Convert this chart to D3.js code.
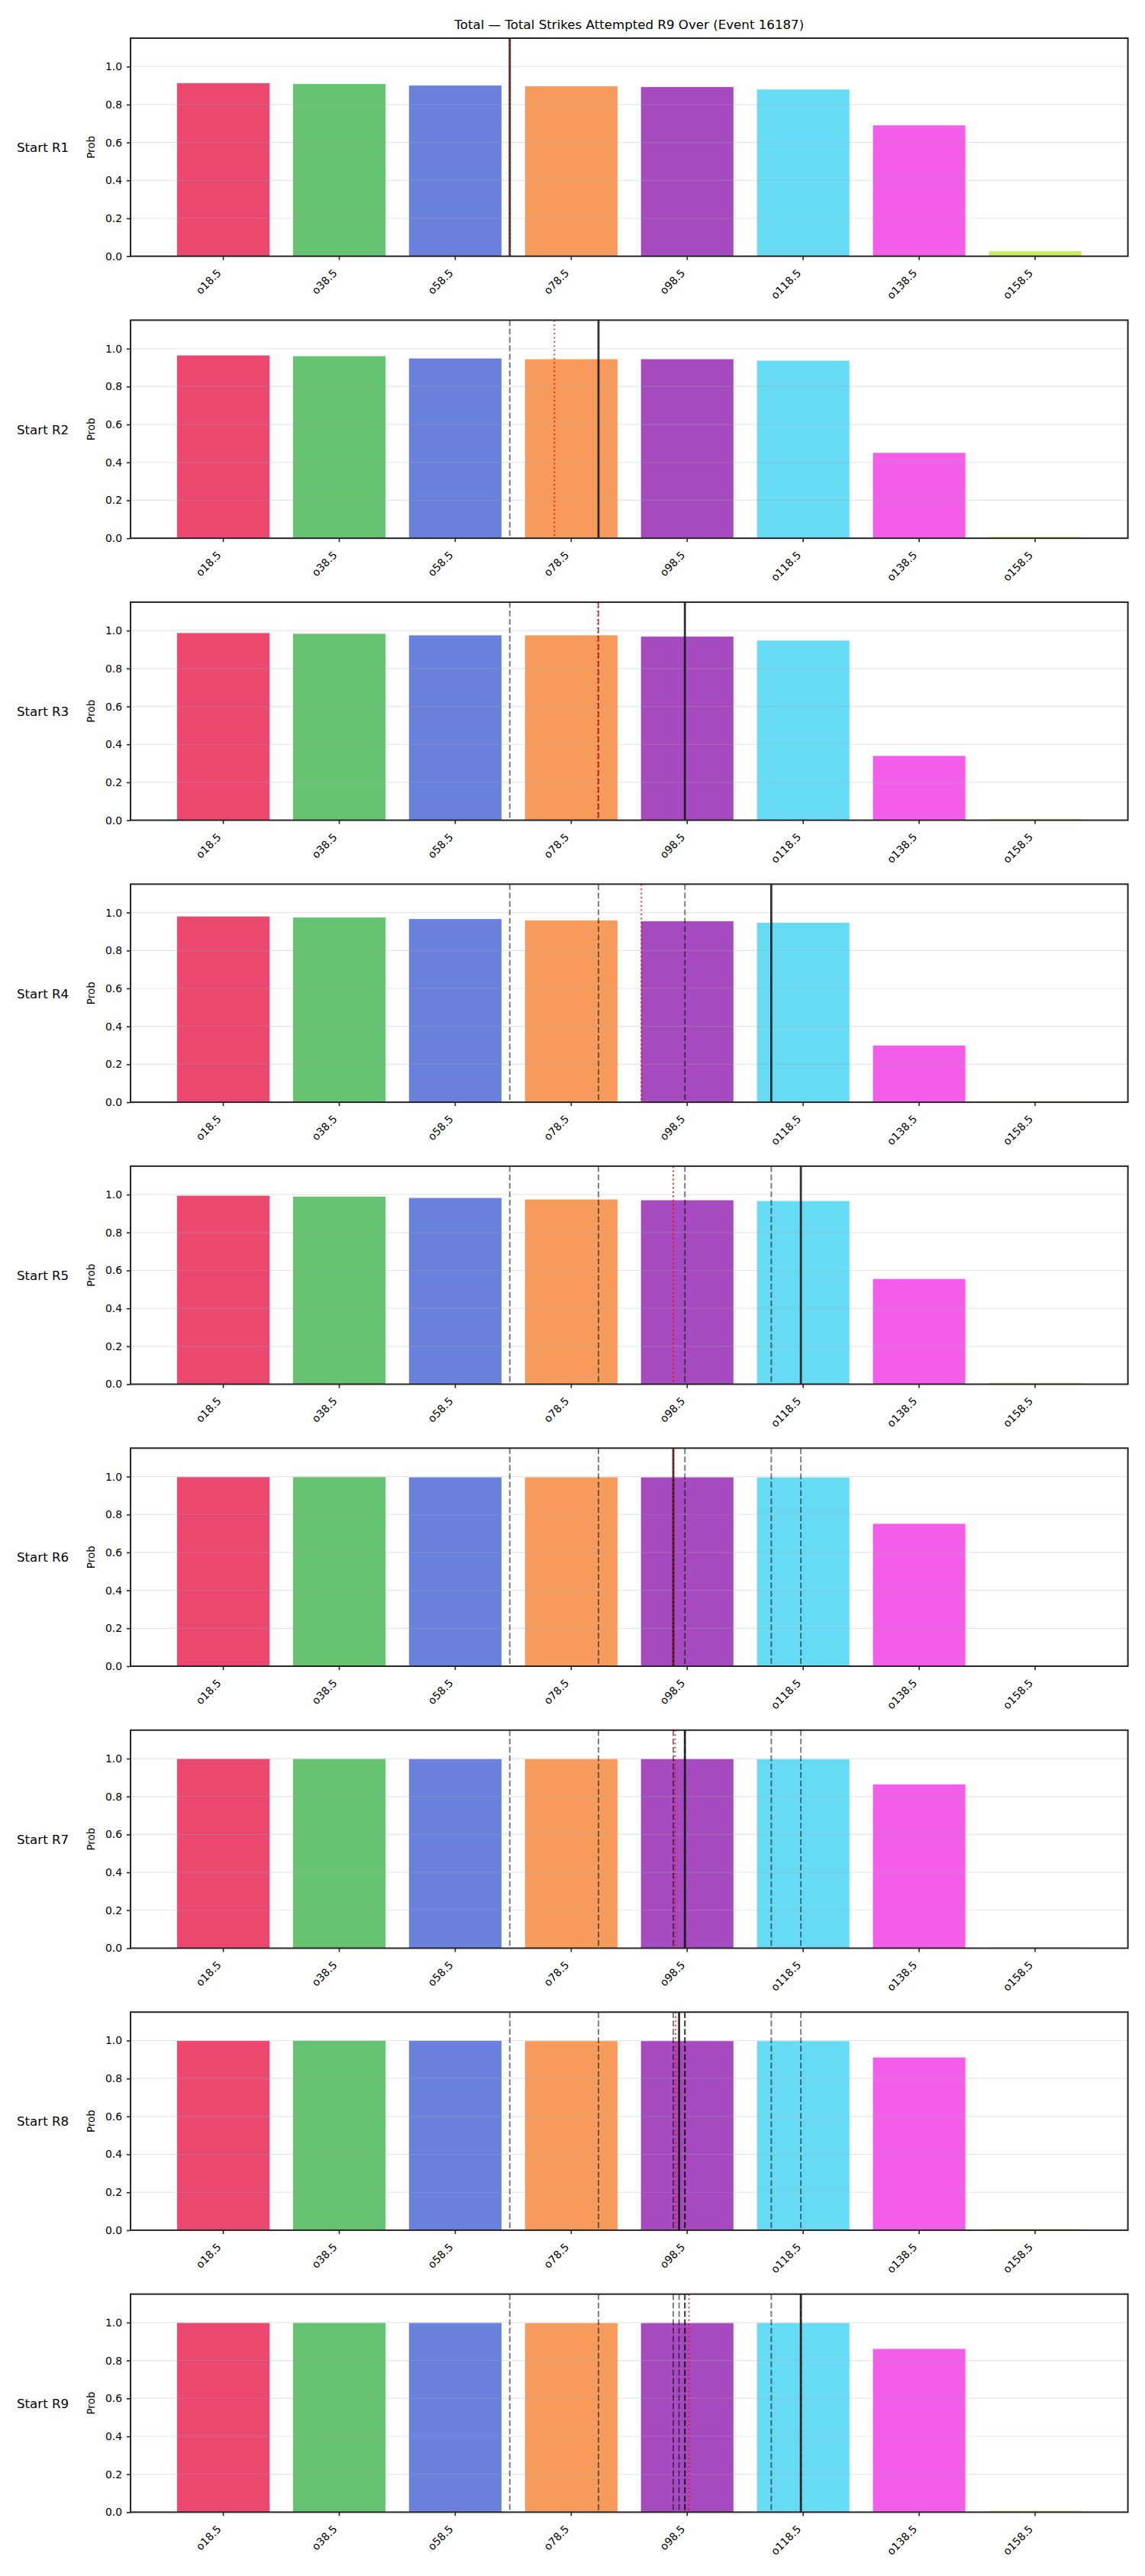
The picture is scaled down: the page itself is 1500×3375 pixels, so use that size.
<!DOCTYPE html>
<html>
<head>
<meta charset="utf-8">
<script src="https://cdn.jsdelivr.net/npm/d3@7"></script>
<style>
  body { margin: 0; background: #fff; }
  svg { display: block; font-family: "DejaVu Sans", sans-serif; }
</style>
</head>
<body>
<div id="chart"></div>
<script>
// Over probabilities per strike line, one panel per starting round

const chartTitle = 'Total \u2014 Total Strikes Attempted R9 Over (Event 16187)';
const strikes = ['o18.5', 'o38.5', 'o58.5', 'o78.5', 'o98.5', 'o118.5', 'o138.5', 'o158.5'];
const rounds = ['R1', 'R2', 'R3', 'R4', 'R5', 'R6', 'R7', 'R8', 'R9'];

const probR1 = [0.913, 0.909, 0.901, 0.897, 0.893, 0.880, 0.691, 0.027];
const probR2 = [0.965, 0.961, 0.949, 0.945, 0.945, 0.937, 0.451, 0.008];
const probR3 = [0.988, 0.984, 0.976, 0.976, 0.969, 0.948, 0.340, 0.007];
const probR4 = [0.980, 0.975, 0.967, 0.959, 0.955, 0.947, 0.300, 0.005];
const probR5 = [0.995, 0.990, 0.983, 0.975, 0.971, 0.967, 0.556, 0.007];
const probR6 = [0.998, 0.998, 0.997, 0.997, 0.997, 0.996, 0.752, 0.001];
const probR7 = [0.999, 0.999, 0.998, 0.998, 0.998, 0.997, 0.864, 0.005];
const probR8 = [0.999, 0.999, 0.999, 0.998, 0.998, 0.998, 0.912, 0.007];
const probR9 = [0.999, 0.999, 0.999, 0.998, 0.998, 0.998, 0.862, 0.008];

// projected pace after each round (solid line), and running average (red dotted)
const pace = [67.9, 83.2, 98.1, 113.0, 118.1, 96.1, 98.1, 97.1, 118.1];
const paceAvg = [67.9, 75.6, 83.1, 90.6, 96.1, 96.1, 96.4, 96.5, 98.8];

const barColors = ['#eb4870', '#66c371', '#6a82dd', '#f69b5b', '#a64bbf', '#68dbf4', '#f35de9', '#c8eb60'];

const probs = [probR1, probR2, probR3, probR4, probR5, probR6, probR7, probR8, probR9];

const width = 1500;
const height = 3375;
const margin = { left: 171, right: 1477.6 };
const firstTop = 50;
const panelStep = 369.46;
const panelH = 285.7;

const svg = d3.select('#chart')
  .append('svg')
  .attr('width', width)
  .attr('height', height);

svg.append('rect')
  .attr('width', width)
  .attr('height', height)
  .attr('fill', '#fff');

const x = d3.scaleBand()
  .domain(strikes)
  .range([margin.left, margin.right])
  .paddingInner(0.2)
  .paddingOuter(0.4);

// vertical markers live on the strike number axis
const strikeNum = strikes.map(s => +s.slice(1));
const xLine = d3.scaleLinear()
  .domain([strikeNum[0], strikeNum[strikeNum.length - 1]])
  .range([x(strikes[0]) + x.bandwidth() / 2, x(strikes[strikes.length - 1]) + x.bandwidth() / 2]);

svg.append('text')
  .attr('x', (margin.left + margin.right) / 2)
  .attr('y', 37.5)
  .attr('text-anchor', 'middle')
  .attr('font-size', '16.67px')
  .attr('fill', '#000')
  .text(chartTitle);

rounds.forEach((round, i) => {
  const top = firstTop + i * panelStep;
  const bottom = top + panelH;
  const y = d3.scaleLinear().domain([0, 1.15]).range([bottom, top]);
  const g = svg.append('g');

  // bars
  g.selectAll('.bar')
    .data(probs[i])
    .join('rect')
    .attr('class', 'bar')
    .attr('x', (d, j) => x(strikes[j]))
    .attr('width', x.bandwidth())
    .attr('y', d => y(d))
    .attr('height', d => y(0) - y(d))
    .attr('fill', (d, j) => barColors[j])
    .attr('stroke', '#fff')
    .attr('stroke-opacity', 0.6)
    .attr('stroke-width', 0.6);

  // grid on top, semi transparent
  g.selectAll('.grid')
    .data([0.2, 0.4, 0.6, 0.8, 1.0])
    .join('line')
    .attr('class', 'grid')
    .attr('x1', margin.left)
    .attr('x2', margin.right)
    .attr('y1', d => y(d))
    .attr('y2', d => y(d))
    .attr('stroke', '#a8a8a8')
    .attr('stroke-opacity', 0.3)
    .attr('stroke-width', 1.2);

  // earlier rounds, dashed
  g.selectAll('.prev')
    .data(pace.slice(0, i))
    .join('line')
    .attr('class', 'prev')
    .attr('x1', d => xLine(d))
    .attr('x2', d => xLine(d))
    .attr('y1', top)
    .attr('y2', bottom)
    .attr('stroke', '#000')
    .attr('stroke-opacity', 0.5)
    .attr('stroke-width', 2)
    .attr('stroke-dasharray', '7.7 3.3');

  g.append('line')
    .attr('x1', xLine(pace[i]))
    .attr('x2', xLine(pace[i]))
    .attr('y1', top)
    .attr('y2', bottom)
    .attr('stroke', '#111')
    .attr('stroke-opacity', 0.85)
    .attr('stroke-width', 2.8);

  g.append('line')
    .attr('x1', xLine(paceAvg[i]))
    .attr('x2', xLine(paceAvg[i]))
    .attr('y1', top)
    .attr('y2', bottom)
    .attr('stroke', '#ff0000')
    .attr('stroke-opacity', 0.75)
    .attr('stroke-width', 2.1)
    .attr('stroke-dasharray', '2.1 3.4');

  // axes
  const yAxis = g.append('g')
    .attr('transform', `translate(${margin.left},0)`)
    .call(d3.axisLeft(y).tickValues([0, 0.2, 0.4, 0.6, 0.8, 1.0]).tickFormat(d3.format('.1f')).tickSize(5).tickPadding(6));
  yAxis.select('.domain').remove();
  yAxis.selectAll('.tick line').attr('stroke', '#262626').attr('stroke-width', 1.6);
  yAxis.selectAll('.tick text')
    .attr('font-size', '13.9px')
    .attr('fill', '#000')
    .attr('font-family', '"DejaVu Sans", sans-serif');

  const xAxis = g.append('g')
    .attr('transform', `translate(0,${bottom})`)
    .call(d3.axisBottom(x).tickSize(5).tickSizeOuter(0));
  xAxis.select('.domain').remove();
  xAxis.selectAll('.tick line').attr('stroke', '#262626').attr('stroke-width', 1.6);
  xAxis.selectAll('.tick text')
    .attr('font-size', '13.9px')
    .attr('fill', '#000')
    .attr('font-family', '"DejaVu Sans", sans-serif')
    .attr('text-anchor', 'end')
    .attr('dy', null)
    .attr('y', 0)
    .attr('transform', 'translate(-2,23) rotate(-45)');

  g.append('rect')
    .attr('x', margin.left)
    .attr('y', top)
    .attr('width', margin.right - margin.left)
    .attr('height', panelH)
    .attr('fill', 'none')
    .attr('stroke', '#262626')
    .attr('stroke-width', 2);

  g.append('text')
    .attr('transform', `translate(123.5,${(top + bottom) / 2}) rotate(-90)`)
    .attr('text-anchor', 'middle')
    .attr('font-size', '13.5px')
    .attr('fill', '#000')
    .text('Prob');

  g.append('text')
    .attr('x', 22)
    .attr('y', (top + bottom) / 2 + 6.3)
    .attr('font-size', '16.67px')
    .attr('fill', '#000')
    .text('Start ' + round);
});
</script>
</body>
</html>
